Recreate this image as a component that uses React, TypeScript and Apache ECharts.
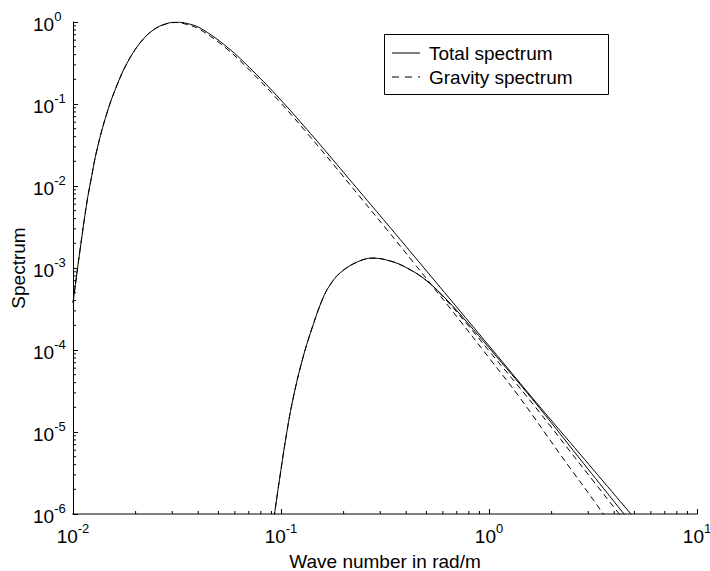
import React, { useEffect, useRef } from 'react';
import * as echarts from 'echarts';

const FONT = '"Liberation Sans", Arial, Helvetica, sans-serif';

// Tick labels (powers of ten)
const xTickValues = [0.01, 0.1, 1, 10];
const xTickExponents = ['-2', '-1', '0', '1'];
const yTickValues = [1e-6, 1e-5, 1e-4, 1e-3, 1e-2, 1e-1, 1];
const yTickExponents = ['-6', '-5', '-4', '-3', '-2', '-1', '0'];
const minorMultipliers = [2, 3, 4, 5, 6, 7, 8, 9];
const xDecades = [0.01, 0.1, 1];
const yDecades = [1e-6, 1e-5, 1e-4, 1e-3, 1e-2, 1e-1];

const legendNames = ['Total spectrum', 'Gravity spectrum'];

// Total spectrum, first sea state (large peak)
const kTotal1 = [0.01, 0.01081, 0.01167, 0.0122, 0.01303, 0.01456, 0.01629, 0.0182, 0.021, 0.0243, 0.0283, 0.0316, 0.0353, 0.0408, 0.055, 0.0733, 0.0988, 0.1333, 0.178, 0.24, 0.324, 0.432, 0.649, 1.011, 1.758, 2.738, 5.09];
const sTotal1 = [3.74e-4, 1.66e-3, 6.38e-3, 0.01184, 0.0275, 0.0777, 0.1706, 0.316, 0.555, 0.799, 0.959, 0.994, 0.959, 0.845, 0.496, 0.2526, 0.115, 0.0489, 0.0208, 8.45e-3, 3.44e-3, 1.44e-3, 4.19e-4, 1.09e-4, 2.02e-5, 5.39e-6, 8.45e-7];

// Gravity spectrum, first sea state
const kGravity1 = [0.01, 0.01081, 0.01167, 0.0122, 0.01303, 0.01456, 0.01629, 0.0182, 0.021, 0.0243, 0.0283, 0.0316, 0.0353, 0.0408, 0.055, 0.0733, 0.0988, 0.1333, 0.178, 0.24, 0.324, 0.432, 0.649, 1.011, 1.41, 2.193, 3.49, 3.65];
const sGravity1 = [3.74e-4, 1.66e-3, 6.38e-3, 0.01184, 0.0275, 0.0777, 0.1706, 0.316, 0.555, 0.799, 0.955, 0.985, 0.932, 0.81, 0.469, 0.2355, 0.106, 0.0443, 0.0185, 7.34e-3, 2.91e-3, 1.18e-3, 3.25e-4, 7.76e-5, 2.6e-5, 5.39e-6, 1.06e-6, 8.69e-7];

// Total spectrum, second sea state (small peak)
const kTotal2 = [0.0925, 0.0989, 0.1069, 0.1142, 0.1262, 0.141, 0.1592, 0.1721, 0.1922, 0.2318, 0.2768, 0.334, 0.4035, 0.5035, 0.628, 0.783, 1.011, 1.627, 2.738, 4.66];
const sTotal2 = [8.93e-7, 2.9e-6, 1.03e-5, 2.53e-5, 7.34e-5, 1.85e-4, 4.31e-4, 6.21e-4, 8.69e-4, 1.18e-3, 1.32e-3, 1.22e-3, 1.0e-3, 6.94e-4, 4.07e-4, 2.19e-4, 1.03e-4, 2.46e-5, 4.69e-6, 8.69e-7];

// Gravity spectrum, second sea state
const kGravity2 = [0.0925, 0.0989, 0.1069, 0.1142, 0.1262, 0.141, 0.1592, 0.1721, 0.1922, 0.2318, 0.2768, 0.334, 0.4035, 0.5035, 0.628, 0.783, 1.011, 1.627, 2.738, 4.36];
const sGravity2 = [8.93e-7, 2.9e-6, 1.03e-5, 2.53e-5, 7.34e-5, 1.85e-4, 4.31e-4, 6.21e-4, 8.69e-4, 1.18e-3, 1.32e-3, 1.22e-3, 1.0e-3, 6.94e-4, 3.96e-4, 2.08e-4, 9.45e-5, 2.19e-5, 4.07e-6, 9.06e-7];

const pair = (k: number[], s: number[]) => k.map((v, i) => [v, s[i]]);

const labelFor = (values: number[], exps: string[]) => (v: number) => {
  let best = 0;
  for (let i = 1; i < values.length; i++) {
    if (Math.abs(Math.log10(values[i] / v)) < Math.abs(Math.log10(values[best] / v))) best = i;
  }
  return `{b|10}{s|${exps[best]}}`;
};

const rich = {
  b: { fontSize: 19, fontFamily: FONT, color: '#000', lineHeight: 24, verticalAlign: 'bottom' },
  s: { fontSize: 13, fontFamily: FONT, color: '#000', lineHeight: 13, verticalAlign: 'top' },
};

export default function App() {
  const ref = useRef<HTMLDivElement>(null);
  useEffect(() => {
    if (!ref.current) return;
    const chart = echarts.init(ref.current, undefined, { renderer: 'svg' });
    const xMinor = xDecades.flatMap((d) => minorMultipliers.map((m) => [d * m, 1e-6]));
    const yMinor = yDecades.flatMap((d) => minorMultipliers.map((m) => [0.01, d * m]));
    const lineBase = { type: 'line', symbol: 'none', showSymbol: false, smooth: 0.4, clip: true, z: 3 };
    chart.setOption({
      animation: false,
      backgroundColor: '#fff',
      grid: { left: 73, right: 13, top: 22, bottom: 57, containLabel: false, outerBoundsMode: 'none' },
      graphic: [
        {
          type: 'rect',
          left: 384,
          top: 34,
          z: 5,
          shape: { width: 224, height: 60 },
          style: { fill: '#fff', stroke: '#000', lineWidth: 1 },
        },
        { type: 'line', z: 6, shape: { x1: 392, y1: 53, x2: 420, y2: 53 }, style: { stroke: '#000', lineWidth: 1 } },
        { type: 'line', z: 6, shape: { x1: 392, y1: 77, x2: 420, y2: 77 }, style: { stroke: '#000', lineWidth: 1, lineDash: [7, 6] } },
        { type: 'text', z: 6, x: 429, y: 53, style: { text: legendNames[0], fontSize: 19, fontFamily: FONT, fill: '#000', verticalAlign: 'middle', align: 'left' } },
        { type: 'text', z: 6, x: 429, y: 77, style: { text: legendNames[1], fontSize: 19, fontFamily: FONT, fill: '#000', verticalAlign: 'middle', align: 'left' } },
      ],
      xAxis: {
        type: 'log',
        logBase: 10,
        min: 0.01,
        max: 10,
        splitNumber: 3,
        axisLine: { lineStyle: { color: '#808080', width: 2 } },
        axisTick: { inside: true, length: 5, lineStyle: { color: '#000', width: 1 } },
        axisLabel: { formatter: labelFor(xTickValues, xTickExponents), margin: 8, rich },
        splitLine: { show: false },
        name: 'Wave number in rad/m',
        nameLocation: 'middle',
        nameGap: 38,
        nameMoveOverlap: false,
        nameTextStyle: { fontSize: 19, fontFamily: FONT, color: '#000' },
      },
      yAxis: {
        type: 'log',
        logBase: 10,
        min: 1e-6,
        max: 1,
        splitNumber: 6,
        axisLine: { lineStyle: { color: '#000', width: 1 } },
        axisTick: { inside: true, length: 5, lineStyle: { color: '#000', width: 1 } },
        axisLabel: { formatter: labelFor(yTickValues, yTickExponents), margin: 40, align: 'left', padding: [0, 0, 1, 0], rich },
        splitLine: { show: false },
        name: 'Spectrum',
        nameLocation: 'middle',
        nameGap: 45,
        nameMoveOverlap: false,
        nameTextStyle: { fontSize: 19, fontFamily: FONT, color: '#000' },
      },
      series: [
        { ...lineBase, name: legendNames[0], data: pair(kTotal1, sTotal1), lineStyle: { color: '#000', width: 1, type: 'solid' }, itemStyle: { color: '#000' } },
        { ...lineBase, name: legendNames[1], data: pair(kGravity1, sGravity1), lineStyle: { color: '#000', width: 1, type: [6, 4] }, itemStyle: { color: '#000' } },
        { ...lineBase, name: legendNames[0], data: pair(kTotal2, sTotal2), lineStyle: { color: '#000', width: 1, type: 'solid' }, itemStyle: { color: '#000' } },
        { ...lineBase, name: legendNames[1], data: pair(kGravity2, sGravity2), lineStyle: { color: '#000', width: 1, type: [6, 4] }, itemStyle: { color: '#000' } },
        {
          type: 'custom',
          name: 'xMinorTicks',
          silent: true,
          clip: false,
          z: 4,
          data: xMinor,
          renderItem: (params: any, api: any) => {
            const p = api.coord([api.value(0), api.value(1)]);
            return { type: 'line', shape: { x1: p[0], y1: p[1], x2: p[0], y2: p[1] - 3 }, style: { stroke: '#000', lineWidth: 1 } };
          },
        },
        {
          type: 'custom',
          name: 'yMinorTicks',
          silent: true,
          clip: false,
          z: 4,
          data: yMinor,
          renderItem: (params: any, api: any) => {
            const p = api.coord([api.value(0), api.value(1)]);
            return { type: 'line', shape: { x1: p[0], y1: p[1], x2: p[0] + 3, y2: p[1] }, style: { stroke: '#000', lineWidth: 1 } };
          },
        },
      ],
    });
    return () => chart.dispose();
  }, []);
  return <div ref={ref} style={{ position: 'fixed', left: 0, top: 0, width: 710, height: 571, background: '#fff' }} />;
}
